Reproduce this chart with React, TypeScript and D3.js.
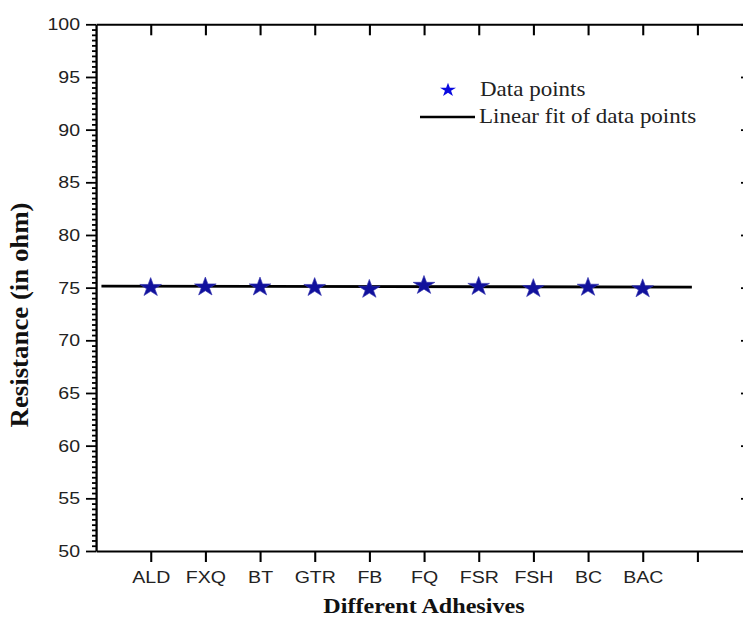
import React, { useEffect, useRef } from 'react';
import * as d3 from 'd3';

// chart values
const categories = ['ALD', 'FXQ', 'BT', 'GTR', 'FB', 'FQ', 'FSR', 'FSH', 'BC', 'BAC'];
const resistance = [75.1, 75.15, 75.15, 75.1, 74.93, 75.3, 75.2, 75.0, 75.12, 74.98];
const yTicks = [50, 55, 60, 65, 70, 75, 80, 85, 90, 95, 100];
const xTickPositions = [1, 2, 3, 4, 5, 6, 7, 8, 9, 10, 11];
const fitRange = [0.1, 10.9];

// the reference image is stretched horizontally, so draw in a narrower viewBox
const SX = 1.15;
const WIDTH = 743;
const HEIGHT = 621;
const VW = WIDTH / SX;

const SERIF = '"Liberation Serif", "Times New Roman", serif';
const SANS = '"Liberation Sans", Arial, sans-serif';

export default function App() {
  const ref = useRef<SVGSVGElement>(null);

  useEffect(() => {
    const svg = d3.select(ref.current);
    svg.selectAll('*').remove();

    const left = 96 / SX;
    const right = 752 / SX;
    const top = 24.3;
    const bottom = 551;

    const x = d3.scaleLinear().domain([0, 12]).range([left, right]);
    const y = d3.scaleLinear().domain([50, 100]).range([bottom, top]);

    const minor = d3.range(50, 100.001, 0.5).filter((v) => v % 5 !== 0);

    // left axis - majors with labels
    const gl = svg.append('g').attr('transform', `translate(${left},0)`);
    gl.call(
      d3
        .axisLeft(y)
        .tickValues(yTicks)
        .tickSize(10 / SX)
        .tickSizeOuter(0)
        .tickPadding(6 / SX)
        .tickFormat((d: any) => `${d}`),
    );
    gl.append('g').call(d3.axisLeft(y).tickValues(minor).tickSize(4 / SX).tickFormat(() => '')).select('.domain').remove();

    // bottom axis
    const gb = svg.append('g').attr('transform', `translate(0,${bottom})`);
    gb.call(
      d3
        .axisBottom(x)
        .tickValues(xTickPositions)
        .tickSize(11)
        .tickSizeOuter(0)
        .tickPadding(9)
        .tickFormat((d: any) => categories[d - 1] ?? ''),
    );

    // top axis, ticks inward
    const gt = svg.append('g').attr('transform', `translate(0,${top})`);
    gt.call(d3.axisTop(x).tickValues(xTickPositions).tickSize(-11).tickSizeOuter(0).tickFormat(() => ''));

    // right axis (mostly cropped), ticks inward
    const gr = svg.append('g').attr('transform', `translate(${right},0)`);
    gr.call(d3.axisRight(y).tickValues(yTicks).tickSize(-11 / SX).tickSizeOuter(0).tickFormat(() => ''));
    gr.append('g').call(d3.axisRight(y).tickValues(minor).tickSize(-4 / SX).tickFormat(() => '')).select('.domain').remove();

    svg.selectAll('.domain').attr('stroke', '#000').attr('stroke-width', 2);
    svg.selectAll('.tick line').attr('stroke', '#000').attr('stroke-width', 1.8);
    svg
      .selectAll('.tick text')
      .attr('font-family', SANS)
      .attr('font-size', 17)
      .attr('fill', '#222');

    // linear fit computed from the points
    const xs = resistance.map((_, i) => i + 1);
    const mx = d3.mean(xs)!;
    const my = d3.mean(resistance)!;
    const slope =
      d3.sum(xs.map((xi, i) => (xi - mx) * (resistance[i] - my))) /
      d3.sum(xs.map((xi) => (xi - mx) ** 2));
    const fit = fitRange.map((xi) => [xi, my + slope * (xi - mx)] as [number, number]);

    svg
      .append('path')
      .attr(
        'd',
        d3
          .line<[number, number]>()
          .x((d) => x(d[0]))
          .y((d) => y(d[1]))(fit)!,
      )
      .attr('stroke', '#000')
      .attr('stroke-width', 2.8)
      .attr('fill', 'none');

    // data points
    const star = d3.symbol().type(d3.symbolStar).size(110);
    svg
      .selectAll('.pt')
      .data(resistance)
      .enter()
      .append('path')
      .attr('class', 'pt')
      .attr('d', star()!)
      .attr('transform', (d, i) => `translate(${x(i + 1)},${y(d) + 0.9})`)
      .attr('fill', '#11119c')
      .attr('stroke', '#3535b0')
      .attr('stroke-width', 0.6);

    // legend
    svg
      .append('path')
      .attr('d', d3.symbol().type(d3.symbolStar).size(60)()!)
      .attr('transform', `translate(${448 / SX},${90})`)
      .attr('fill', '#0a0ae0');
    svg
      .append('text')
      .attr('x', 480 / SX)
      .attr('y', 95.7)
      .attr('font-family', SERIF)
      .attr('font-size', 20)
      .attr('fill', '#222')
      .text('Data points');
    svg
      .append('line')
      .attr('x1', 420 / SX)
      .attr('x2', 475 / SX)
      .attr('y1', 117)
      .attr('y2', 117)
      .attr('stroke', '#000')
      .attr('stroke-width', 2.5);
    svg
      .append('text')
      .attr('x', 479 / SX)
      .attr('y', 123.3)
      .attr('font-family', SERIF)
      .attr('font-size', 20)
      .attr('fill', '#222')
      .text('Linear fit of data points');

    // axis titles
    svg
      .append('text')
      .attr('x', (left + right) / 2)
      .attr('y', 613)
      .attr('text-anchor', 'middle')
      .attr('font-family', SERIF)
      .attr('font-weight', 'bold')
      .attr('font-size', 21)
      .attr('fill', '#111')
      .text('Different Adhesives');
    svg
      .append('text')
      .attr('transform', `translate(${28 / SX},315) rotate(-90)`)
      .attr('text-anchor', 'middle')
      .attr('font-family', SERIF)
      .attr('font-weight', 'bold')
      .attr('font-size', 21)
      .attr('textLength', 225)
      .attr('lengthAdjust', 'spacingAndGlyphs')
      .attr('fill', '#111')
      .text('Resistance (in ohm)');
  }, []);

  return (
    <svg
      ref={ref}
      width={WIDTH}
      height={HEIGHT}
      viewBox={`0 0 ${VW} ${HEIGHT}`}
      preserveAspectRatio="none"
      style={{ position: 'absolute', left: 0, top: 0, background: '#fff' }}
    />
  );
}
